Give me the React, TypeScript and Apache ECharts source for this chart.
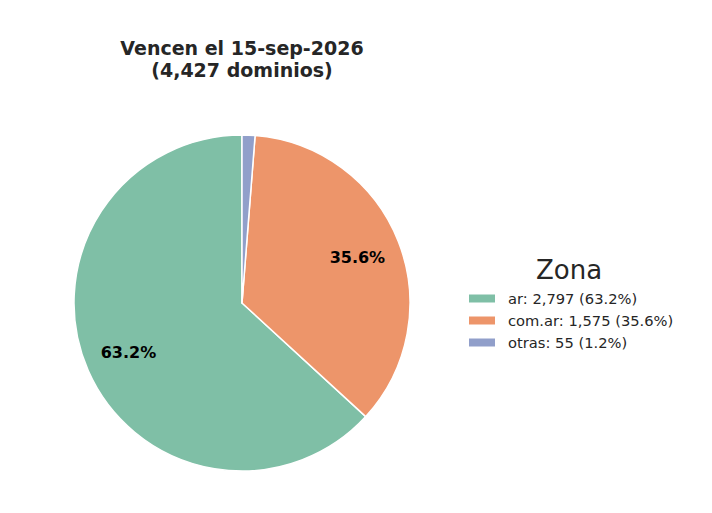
import { useEffect, useRef } from 'react';
import * as echarts from 'echarts';

// zonas y cantidades de dominios
const zonas = ['ar', 'com.ar', 'otras'];
const cantidades = [2797, 1575, 55];
const colores = ['#7fbfa6', '#ed956a', '#919fca'];
const tituloLineas = ['Vencen el 15-sep-2026', '(4,427 dominios)'];
const tituloLeyenda = 'Zona';

const total = cantidades.reduce((a, b) => a + b, 0);
const pct = (v: number) => ((v / total) * 100).toFixed(1);
const fmt = (v: number) => v.toLocaleString('en-US');

export default function App() {
  const chartRef = useRef<HTMLDivElement>(null);

  useEffect(() => {
    if (!chartRef.current) return;
    const chart = echarts.init(chartRef.current, null, { renderer: 'svg' });

    const data = zonas.map((z, i) => ({
      name: z,
      value: cantidades[i],
      itemStyle: { color: colores[i] }
    }));

    chart.setOption({
      animation: false,
      textStyle: { fontFamily: 'DejaVu Sans' },
      title: [
        {
          text: tituloLineas.join('\n'),
          left: 237,
          top: 32,
          textAlign: 'center',
          textStyle: {
            fontFamily: 'DejaVu Sans',
            fontSize: 19,
            fontWeight: 'bold',
            color: '#262626',
            lineHeight: 22
          }
        },
        {
          text: tituloLeyenda,
          left: 564,
          top: 252,
          textAlign: 'center',
          textStyle: {
            fontFamily: 'DejaVu Sans',
            fontSize: 26,
            fontWeight: 'normal',
            color: '#262626'
          }
        }
      ],
      legend: {
        orient: 'vertical',
        left: 462,
        top: 286,
        itemWidth: 28,
        itemHeight: 10,
        itemGap: 7,
        icon: 'rect',
        data: zonas,
        formatter: (name: string) => {
          const i = zonas.indexOf(name);
          return `${name}: ${fmt(cantidades[i])} (${pct(cantidades[i])}%)`;
        },
        textStyle: {
          fontFamily: 'DejaVu Sans',
          fontSize: 14.7,
          lineHeight: 15,
          color: '#262626',
          padding: [0, 0, 0, 7]
        }
      },
      series: [
        {
          type: 'pie',
          center: [242, 303],
          radius: [0, 168],
          startAngle: 90,
          clockwise: false,
          label: { show: false },
          labelLine: { show: false },
          itemStyle: { borderColor: '#ffffff', borderWidth: 1.5 },
          emphasis: { disabled: true },
          data
        },
        {
          type: 'pie',
          center: [242, 303],
          radius: [74, 168],
          startAngle: 90,
          clockwise: false,
          silent: true,
          legendHoverLink: false,
          itemStyle: { color: 'transparent' },
          labelLine: { show: false },
          label: {
            show: true,
            position: 'inside',
            fontFamily: 'DejaVu Sans',
            fontSize: 16,
            fontWeight: 'bold',
            color: '#000000',
            formatter: (p: any) => (p.value / total < 0.05 ? '' : `${pct(p.value)}%`)
          },
          emphasis: { disabled: true },
          data: zonas.map((z, i) => ({ name: z + ' ', value: cantidades[i] }))
        }
      ]
    });

    return () => chart.dispose();
  }, []);

  return (
    <div
      ref={chartRef}
      style={{ position: 'fixed', left: 0, top: 0, width: 712, height: 513, background: '#ffffff' }}
    />
  );
}
